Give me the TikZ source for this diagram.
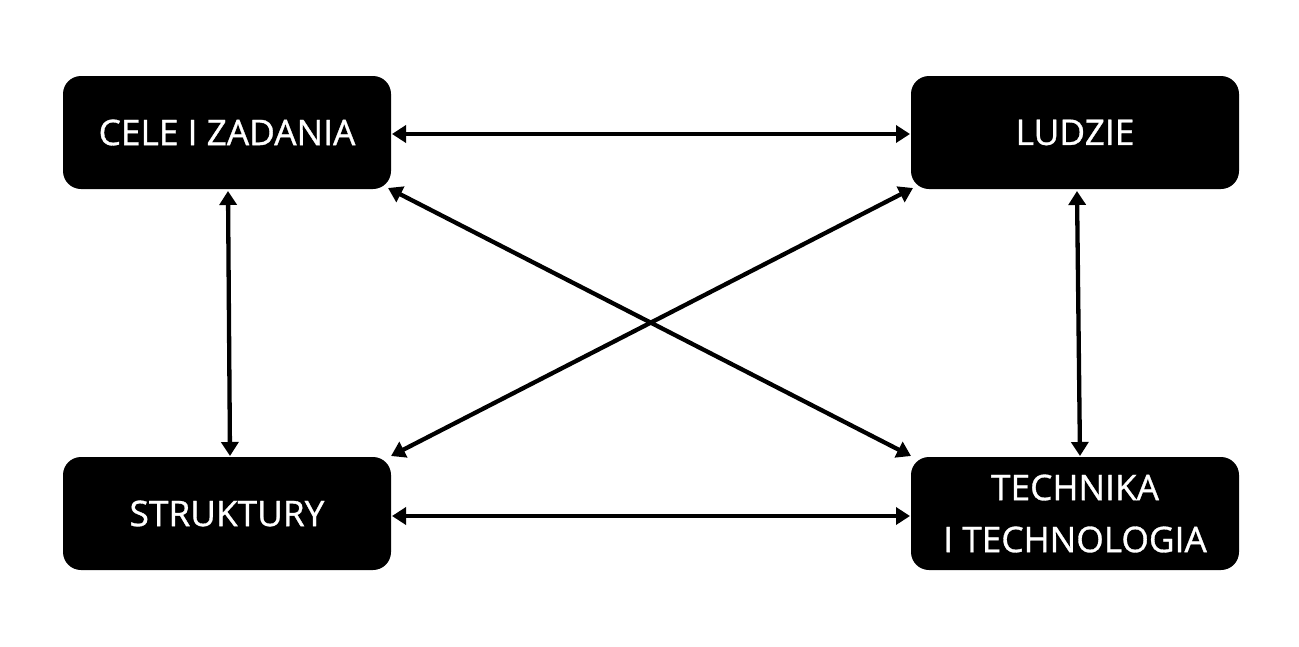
\documentclass[tikz,border=0pt]{standalone}
\usepackage{fontspec}
\setmainfont{Open Sans}
\newfontfamily\boxfont{Open Sans}[FakeBold=0.9]
\usetikzlibrary{arrows.meta}
\begin{document}
\begin{tikzpicture}[x=1pt,y=-1pt,
  box/.style={fill=black,rounded corners=18pt,minimum width=328pt,minimum height=113pt,
    text=white,font=\boxfont\fontsize{35.3}{52}\selectfont,align=center,inner sep=0pt},
  link/.style={line width=4.3pt,{Triangle[length=14pt,width=17pt]}-{Triangle[length=14pt,width=17pt]}}]
\useasboundingbox (0,0) rectangle (1299,646);
\node[box] (cel) at (227,132.5) {CELE I ZADANIA};
\node[box] (lud) at (1075,132.5) {LUDZIE};
\node[box] (str) at (227,513.5) {STRUKTURY};
\node[box] (tec) at (1075,513.5) {TECHNIKA\\I TECHNOLOGIA};
\coordinate (a1) at (392,134); \coordinate (a2) at (910,134);
\coordinate (b1) at (392,516); \coordinate (b2) at (910,516);
\coordinate (c1) at (228,191); \coordinate (c2) at (230,456);
\coordinate (d1) at (1077,191); \coordinate (d2) at (1080,456);
\coordinate (e1) at (388,188); \coordinate (e2) at (911,456);
\coordinate (f1) at (913,188); \coordinate (f2) at (391,456);
\draw[link] (a1) -- (a2);
\draw[link] (b1) -- (b2);
\draw[link] (c1) -- (c2);
\draw[link] (d1) -- (d2);
\draw[link] (e1) -- (e2);
\draw[link] (f1) -- (f2);
\end{tikzpicture}
\end{document}
